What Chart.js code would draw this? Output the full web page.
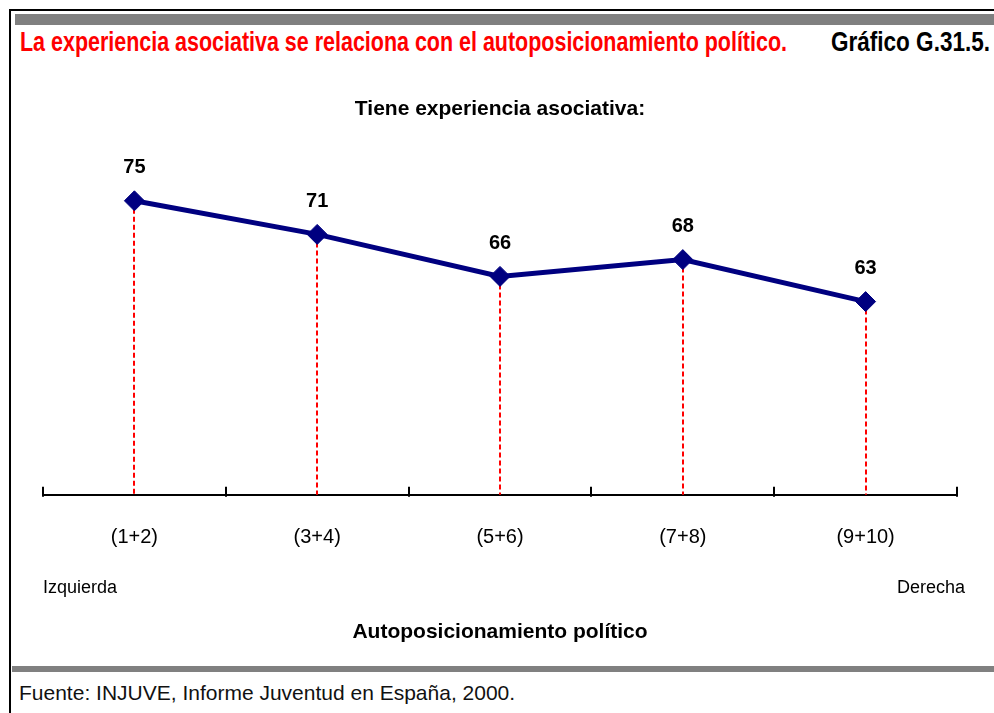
<!DOCTYPE html>
<html>
<head>
<meta charset="utf-8">
<script src="https://cdn.jsdelivr.net/npm/chart.js@4.4.0/dist/chart.umd.min.js"></script>
<style>
  html, body { margin: 0; padding: 0; background: #fff; overflow: hidden; }
  body { width: 994px; height: 713px; position: relative; font-family: "Liberation Sans", Arial, sans-serif; }
  #frame { position: absolute; left: 9px; top: 9px; width: 1000px; height: 720px; border-left: 2px solid #000; border-top: 2px solid #000; }
  .bar { position: absolute; background: #808080; }
  .head { position: absolute; top: 27px; white-space: nowrap; font-family: "Liberation Sans", Arial, sans-serif; font-weight: bold; font-size: 27px; line-height: 30px; transform-origin: 0 50%; }
  #head { left: 20px; color: #ff0000; }
  #num { left: 831px; color: #000; }
  #foot { position: absolute; left: 19px; top: 680px; font-size: 21px; line-height: 26px; color: #111; white-space: nowrap; }
  #wrap { position: absolute; left: 0; top: 60px; width: 994px; height: 600px; }
</style>
</head>
<body>
<div id="frame"></div>
<div class="bar" style="left:15px; top:14px; right:0; height:11px;"></div>
<div class="head" id="head">La experiencia asociativa se relaciona con el autoposicionamiento político.</div>
<div class="head" id="num">Gráfico G.31.5.</div>
<div id="wrap"><canvas id="myChart" width="994" height="600"></canvas></div>
<div class="bar" style="left:12px; top:666px; right:0; height:6px;"></div>
<div id="foot">Fuente: INJUVE, Informe Juventud en España, 2000.</div>
<script>
var categorias = ["(1+2)", "(3+4)", "(5+6)", "(7+8)", "(9+10)"];
var experiencia = [75, 71, 66, 68, 63];

// no hay fuente estrecha instalada: se comprime el titulo al ancho del original
function estrechar(id, ancho) {
  var el = document.getElementById(id);
  var w = el.getBoundingClientRect().width;
  el.style.transform = "scaleX(" + (ancho / w) + ")";
}
estrechar("head", 767);
estrechar("num", 159);

// lineas rojas discontinuas, marcas del eje y etiquetas
var extras = {
  id: "extras",
  beforeDatasetsDraw: function (chart) {
    var c = chart.ctx, area = chart.chartArea;
    var pts = chart.getDatasetMeta(0).data;
    c.save();
    c.strokeStyle = "#ff0000";
    c.lineWidth = 2;
    c.setLineDash([5, 3]);
    pts.forEach(function (p) {
      c.beginPath();
      c.moveTo(Math.round(p.x), p.y);
      c.lineTo(Math.round(p.x), area.bottom);
      c.stroke();
    });
    c.restore();
  },
  afterDatasetsDraw: function (chart) {
    var c = chart.ctx, area = chart.chartArea, x = chart.scales.x;
    var pts = chart.getDatasetMeta(0).data;
    c.save();
    c.strokeStyle = "#000";
    c.lineWidth = 2;
    for (var i = 0; i <= categorias.length; i++) {
      var px = Math.round(x.getPixelForValue(i - 0.5));
      c.beginPath();
      c.moveTo(px, area.bottom + 2);
      c.lineTo(px, area.bottom - 8);
      c.stroke();
    }
    c.fillStyle = "#000";
    c.font = "bold 20px 'Liberation Sans', Arial, sans-serif";
    c.textAlign = "center";
    c.textBaseline = "middle";
    pts.forEach(function (p, i) {
      c.fillText(experiencia[i], p.x, p.y - 33);
    });
    c.font = "18px 'Liberation Sans', Arial, sans-serif";
    c.textAlign = "left";
    c.fillText("Izquierda", area.left, area.bottom + 93);
    c.textAlign = "right";
    c.fillText("Derecha", area.right + 8, area.bottom + 93);
    c.restore();
  }
};

var ctx = document.getElementById("myChart").getContext("2d");
var myChart = new Chart(ctx, {
  type: "line",
  data: {
    labels: categorias,
    datasets: [
      {
        label: "Tiene experiencia asociativa",
        data: experiencia,
        borderColor: "#000080",
        backgroundColor: "#000080",
        borderWidth: 5,
        pointStyle: "rectRot",
        pointRadius: 10,
        pointBorderWidth: 1,
        pointBorderColor: "#000080",
        pointBackgroundColor: "#000080",
        tension: 0,
        clip: false,
      },
    ],
  },
  options: {
    responsive: false,
    animation: false,
    layout: { padding: { left: 43, right: 37, top: 0, bottom: 15 } },
    plugins: {
      legend: { display: false },
      tooltip: { enabled: false },
      title: {
        display: true,
        text: "Tiene experiencia asociativa:",
        color: "#000",
        font: { family: "'Liberation Sans', Arial, sans-serif", size: 21, weight: "bold", lineHeight: 1.2 },
        padding: { top: 37, bottom: 3 },
      },
    },
    scales: {
      x: {
        offset: true,
        grid: { display: false, drawTicks: false },
        border: { display: true, color: "#000", width: 2 },
        ticks: { color: "#000", padding: 31, font: { family: "'Liberation Sans', Arial, sans-serif", size: 20, lineHeight: 1.2 } },
        title: {
          display: true,
          text: "Autoposicionamiento político",
          color: "#000",
          font: { family: "'Liberation Sans', Arial, sans-serif", size: 21, weight: "bold", lineHeight: 1.2 },
          padding: { top: 39, bottom: 0 },
        },
      },
      y: {
        display: false,
        min: 40,
        max: 84,
      },
    },
  },
  plugins: [extras],
});
</script>
</body>
</html>
